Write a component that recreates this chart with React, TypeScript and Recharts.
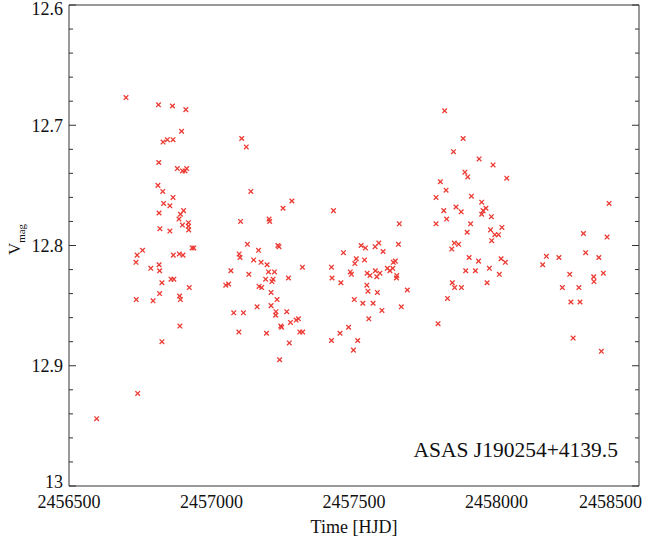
import { ScatterChart, Scatter, XAxis, YAxis, Label } from 'recharts';

// [HJD, V mag] per observing season
const season1 = [
  [2456597, 12.944], [2456700, 12.677], [2456735, 12.814], [2456736, 12.845], [2456739, 12.808],
  [2456741, 12.923], [2456758, 12.804], [2456787, 12.819], [2456795, 12.846], [2456812, 12.75],
  [2456814, 12.683], [2456815, 12.731], [2456816, 12.773], [2456816, 12.816], [2456818, 12.821],
  [2456818, 12.84], [2456819, 12.786], [2456826, 12.831], [2456826, 12.88], [2456829, 12.755],
  [2456830, 12.714], [2456832, 12.765], [2456845, 12.712], [2456854, 12.767], [2456854, 12.788],
  [2456858, 12.828], [2456863, 12.684], [2456865, 12.712], [2456865, 12.76], [2456866, 12.808],
  [2456868, 12.828], [2456880, 12.736], [2456886, 12.778], [2456887, 12.807], [2456888, 12.842],
  [2456889, 12.867], [2456891, 12.774], [2456891, 12.845], [2456895, 12.705], [2456898, 12.738],
  [2456898, 12.783], [2456900, 12.808], [2456902, 12.771], [2456907, 12.738], [2456910, 12.687],
  [2456913, 12.736], [2456919, 12.781], [2456919, 12.784], [2456920, 12.787], [2456922, 12.835],
  [2456932, 12.802], [2456938, 12.802],
];

const season2 = [
  [2457050, 12.833], [2457060, 12.832], [2457068, 12.821], [2457078, 12.856], [2457096, 12.872],
  [2457097, 12.807], [2457100, 12.81], [2457102, 12.78], [2457106, 12.711], [2457112, 12.856],
  [2457122, 12.718], [2457126, 12.799], [2457131, 12.824], [2457138, 12.755], [2457148, 12.812],
  [2457160, 12.851], [2457165, 12.804], [2457167, 12.834], [2457174, 12.814], [2457176, 12.835],
  [2457190, 12.828], [2457193, 12.873], [2457195, 12.816], [2457200, 12.822], [2457202, 12.778],
  [2457204, 12.78], [2457209, 12.839], [2457209, 12.85], [2457212, 12.83], [2457216, 12.828],
  [2457221, 12.822], [2457225, 12.858], [2457226, 12.855], [2457230, 12.845], [2457233, 12.8],
  [2457237, 12.801], [2457239, 12.895], [2457243, 12.867], [2457246, 12.868], [2457251, 12.769],
  [2457264, 12.855], [2457270, 12.827], [2457273, 12.881], [2457277, 12.864], [2457282, 12.763],
  [2457297, 12.862], [2457305, 12.861], [2457310, 12.872], [2457319, 12.818], [2457320, 12.872],
];

const season3 = [
  [2457421, 12.818], [2457421, 12.879], [2457423, 12.827], [2457428, 12.771], [2457451, 12.873],
  [2457454, 12.831], [2457463, 12.806], [2457481, 12.868], [2457487, 12.822], [2457491, 12.824],
  [2457498, 12.887], [2457501, 12.845], [2457503, 12.815], [2457508, 12.811], [2457513, 12.879],
  [2457525, 12.8], [2457531, 12.848], [2457537, 12.812], [2457540, 12.802], [2457545, 12.833],
  [2457546, 12.823], [2457549, 12.838], [2457552, 12.861], [2457556, 12.825], [2457567, 12.848],
  [2457574, 12.801], [2457575, 12.821], [2457580, 12.826], [2457582, 12.839], [2457587, 12.798],
  [2457591, 12.823], [2457598, 12.854], [2457602, 12.805], [2457617, 12.819], [2457626, 12.821],
  [2457636, 12.819], [2457638, 12.814], [2457645, 12.813], [2457649, 12.827], [2457650, 12.825],
  [2457656, 12.799], [2457659, 12.782], [2457666, 12.851], [2457687, 12.837],
];

const season4 = [
  [2457788, 12.76], [2457788, 12.782], [2457795, 12.865], [2457803, 12.747], [2457815, 12.771],
  [2457818, 12.688], [2457823, 12.754], [2457825, 12.778], [2457828, 12.844], [2457843, 12.803],
  [2457845, 12.831], [2457849, 12.722], [2457852, 12.798], [2457853, 12.835], [2457858, 12.768],
  [2457867, 12.799], [2457876, 12.772], [2457877, 12.835], [2457883, 12.711], [2457889, 12.739],
  [2457892, 12.821], [2457897, 12.789], [2457899, 12.743], [2457904, 12.81], [2457909, 12.782],
  [2457912, 12.759], [2457926, 12.821], [2457937, 12.813], [2457939, 12.728], [2457948, 12.764],
  [2457948, 12.774], [2457953, 12.771], [2457963, 12.769], [2457967, 12.831], [2457975, 12.819],
  [2457979, 12.787], [2457982, 12.776], [2457983, 12.796], [2457988, 12.733], [2457994, 12.791],
  [2458007, 12.791], [2458010, 12.824], [2458016, 12.811], [2458019, 12.785], [2458031, 12.814],
  [2458036, 12.744],
];

const season5 = [
  [2458162, 12.816], [2458175, 12.809], [2458219, 12.81], [2458231, 12.835], [2458257, 12.824],
  [2458261, 12.847], [2458269, 12.877], [2458289, 12.835], [2458293, 12.847], [2458305, 12.79],
  [2458313, 12.806], [2458341, 12.826], [2458342, 12.83], [2458359, 12.81], [2458368, 12.888],
  [2458375, 12.823], [2458388, 12.793], [2458395, 12.765],
];

const xMajorTicks = [2456500, 2457000, 2457500, 2458000, 2458500];
const xMinorTicks = [
  2456600, 2456700, 2456800, 2456900, 2457100, 2457200, 2457300, 2457400,
  2457600, 2457700, 2457800, 2457900, 2458100, 2458200, 2458300, 2458400,
];
const yMajorTicks = [12.6, 12.7, 12.8, 12.9, 13];
const yMinorTicks = [
  12.62, 12.64, 12.66, 12.68, 12.72, 12.74, 12.76, 12.78,
  12.82, 12.84, 12.86, 12.88, 12.92, 12.94, 12.96, 12.98,
];

const xTitle = 'Time [HJD]';
const starName = 'ASAS J190254+4139.5';

const points = [...season1, ...season2, ...season3, ...season4, ...season5].map(([t, m]) => ({ t, m }));

const FONT = '"Liberation Serif", "Times New Roman", serif';
const FRAME = '#333';
const RED = '#ec3a33';
const THIN = 0.01; // mirrored frame axes take (almost) no room, but must be > 0 to render
const xDomain: [number, number] = [2456500, 2458500];
const yDomain: [number, number] = [12.6, 13];

function Cross(props: any) {
  const { cx, cy } = props;
  const r = 2.3;
  return (
    <g stroke={RED} strokeWidth={1.3}>
      <line x1={cx - r} y1={cy - r} x2={cx + r} y2={cy + r} />
      <line x1={cx - r} y1={cy + r} x2={cx + r} y2={cy - r} />
    </g>
  );
}

const NoTick = () => <g />;

function XTick(props: any) {
  const { x, y, payload } = props;
  const last = payload.value === xMajorTicks[xMajorTicks.length - 1];
  return (
    <text x={last ? x + 3 : x} y={y} dy="0.71em" textAnchor={last ? 'end' : 'middle'}
      fontFamily={FONT} fontSize={18} fill="#111">
      {payload.value}
    </text>
  );
}

function YTick(props: any) {
  const { x, y, payload } = props;
  let shift = 0;
  if (payload.value === yMajorTicks[0]) shift = 4;
  if (payload.value === yMajorTicks[yMajorTicks.length - 1]) shift = -4;
  return (
    <text x={x} y={y + shift} dy="0.35em" textAnchor="end" fontFamily={FONT} fontSize={18} fill="#111">
      {payload.value}
    </text>
  );
}

function XTitle(props: any) {
  const { x, y, width } = props.viewBox;
  return (
    <g fontFamily={FONT} fill="#111">
      <text x={x + width / 2} y={y + 47} textAnchor="middle" fontSize={18}>{xTitle}</text>
      <text x={x + width - 21} y={y - 29} textAnchor="end" fontSize={21.5}>{starName}</text>
    </g>
  );
}

function YTitle(props: any) {
  const { y, height } = props.viewBox;
  return (
    <text transform={`translate(20,${y + height / 2 - 6}) rotate(-90)`} textAnchor="middle"
      fontFamily={FONT} fontSize={17} fill="#111">
      V<tspan fontSize={11} dy={5}>mag</tspan>
    </text>
  );
}

export default function App() {
  // inward tick marks on all four sides
  const frameAxis = { type: 'number' as const, allowDataOverflow: true, interval: 0 as const, mirror: true, tick: NoTick, stroke: FRAME };
  return (
    <div style={{ position: 'absolute', left: 0, top: 0, background: '#fff' }}>
      <ScatterChart width={646} height={545} margin={{ top: 5, right: 7, bottom: 0, left: 0 }}>
        <XAxis xAxisId="main" type="number" dataKey="t" domain={xDomain} allowDataOverflow ticks={xMajorTicks}
          interval={0} tick={XTick} tickLine={false} axisLine={false} tickSize={6} tickMargin={3} height={59}>
          <Label content={XTitle} />
        </XAxis>
        <XAxis xAxisId="bMaj" orientation="bottom" domain={xDomain} ticks={xMajorTicks} tickSize={7} height={THIN} {...frameAxis} />
        <XAxis xAxisId="bMin" orientation="bottom" domain={xDomain} ticks={xMinorTicks} tickSize={4} height={THIN} {...frameAxis} axisLine={false} />
        <XAxis xAxisId="tMaj" orientation="top" domain={xDomain} ticks={xMajorTicks} tickSize={7} height={THIN} {...frameAxis} />
        <XAxis xAxisId="tMin" orientation="top" domain={xDomain} ticks={xMinorTicks} tickSize={4} height={THIN} {...frameAxis} axisLine={false} />

        <YAxis yAxisId="main" type="number" dataKey="m" domain={yDomain} reversed allowDataOverflow ticks={yMajorTicks}
          interval={0} tick={YTick} tickLine={false} axisLine={false} tickSize={4} tickMargin={2} width={69}>
          <Label content={YTitle} />
        </YAxis>
        <YAxis yAxisId="lMaj" orientation="left" domain={yDomain} reversed ticks={yMajorTicks} tickSize={7} width={THIN} {...frameAxis} />
        <YAxis yAxisId="lMin" orientation="left" domain={yDomain} reversed ticks={yMinorTicks} tickSize={4} width={THIN} {...frameAxis} axisLine={false} />
        <YAxis yAxisId="rMaj" orientation="right" domain={yDomain} reversed ticks={yMajorTicks} tickSize={7} width={THIN} {...frameAxis} />
        <YAxis yAxisId="rMin" orientation="right" domain={yDomain} reversed ticks={yMinorTicks} tickSize={4} width={THIN} {...frameAxis} axisLine={false} />

        <Scatter xAxisId="main" yAxisId="main" data={points} shape={Cross} isAnimationActive={false} />
      </ScatterChart>
    </div>
  );
}
